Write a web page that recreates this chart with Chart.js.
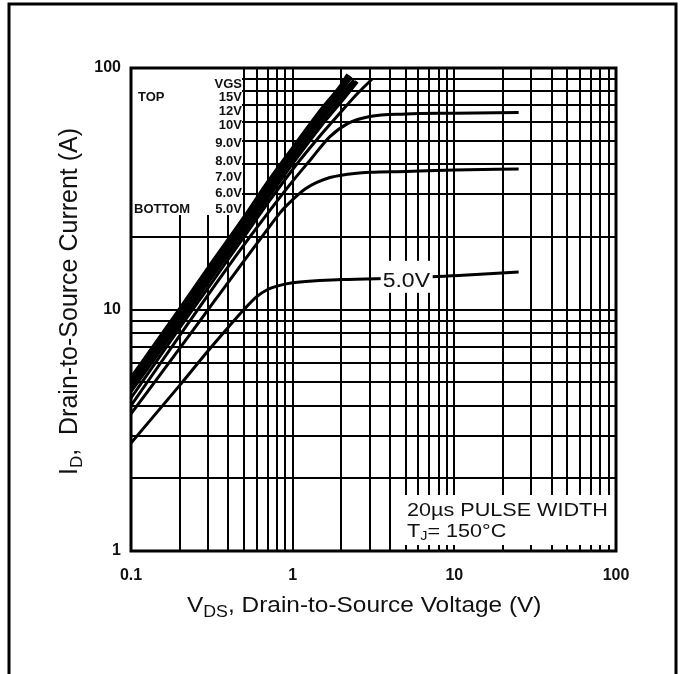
<!DOCTYPE html>
<html>
<head>
<meta charset="utf-8">
<script src="https://cdn.jsdelivr.net/npm/chart.js@4"></script>
<style>
  html, body { margin: 0; padding: 0; background: #fff; }
  #wrap { width: 684px; height: 674px; }
</style>
</head>
<body>
<div id="wrap"><canvas id="chart" width="684" height="674"></canvas></div>
<script>
// every gridline of the two log axes, labels only on the decades
const xTicks = [0.1, 0.2, 0.3, 0.4, 0.5, 0.6, 0.7, 0.8, 0.9, 1, 2, 3, 4, 5, 6, 7, 8, 9, 10, 20, 30, 40, 50, 60, 70, 80, 90, 100];
const yTicks = [1, 2, 3, 4, 5, 6, 7, 8, 9, 10, 20, 30, 40, 50, 60, 70, 80, 90, 100];
const decadeLabels = { 0.1: '0.1', 1: '1', 10: '10', 100: '100' };

// VDS (V) and ID (A)
const vds15 = [0.1, 0.2, 0.3, 0.5, 0.7, 1, 1.5, 2, 2.2];
const id15 = [5.2, 10, 14.8, 24, 33.5, 46.5, 67, 85, 94];
const vds12 = [0.1, 0.2, 0.3, 0.5, 0.7, 1, 1.5, 2, 2.3];
const id12 = [5.0, 9.6, 14.2, 23, 32, 44.5, 64, 81, 92];
const vds10 = [0.1, 0.2, 0.3, 0.5, 0.7, 1, 1.5, 2, 2.4];
const id10 = [4.8, 9.2, 13.6, 22, 30.5, 42.5, 61, 77, 89];
const vds9 = [0.1, 0.2, 0.3, 0.5, 0.7, 1, 1.5, 2, 2.5];
const id9 = [4.6, 8.8, 13, 21, 29, 40.5, 58, 73, 88];
const vds8 = [0.1, 0.2, 0.3, 0.5, 0.7, 1, 1.5, 2, 2.5, 3.1];
const id8 = [4.3, 8.4, 12.3, 20, 27.5, 38, 53, 66, 78, 90];
const vds7 = [0.1, 0.2, 0.3, 0.5, 0.7, 1, 1.3, 1.7, 2.2, 3, 5, 10, 25];
const id7 = [4.0, 7.8, 11.5, 18.5, 25, 34, 42, 52, 59, 63, 64.5, 65, 65.5];
const vds6 = [0.1, 0.2, 0.33, 0.5, 0.7, 0.83, 0.9, 1, 1.1, 1.2, 1.4, 1.7, 2, 3, 5, 10, 25];
const id6 = [3.7, 6.9, 10.9, 15.9, 21.5, 25.0, 26.6, 28.5, 30.2, 31.6, 33.5, 35.2, 36.0, 37, 37.3, 37.8, 38.2];
const vds5 = [0.1, 0.2, 0.3, 0.4, 0.5, 0.6, 0.7, 0.8, 1, 2, 5, 10, 25];
const id5 = [2.8, 4.85, 6.75, 8.45, 10.0, 11.3, 12.1, 12.5, 12.9, 13.3, 13.5, 13.8, 14.3];

const gateLabels = ['15V', '12V', '10V', '9.0V', '8.0V', '7.0V', '6.0V', '5.0V'];
const curves = [[vds15, id15], [vds12, id12], [vds10, id10], [vds9, id9], [vds8, id8], [vds7, id7], [vds6, id6], [vds5, id5]];

const FONT = '"Liberation Sans", Arial, sans-serif';
const INK = '#111';

// draws a row of text pieces (size, baseline shift) with a horizontal stretch
function textRun(ctx, x, y, parts, sx, weight) {
  ctx.save();
  ctx.translate(x, y);
  ctx.scale(sx, 1);
  let cx = 0;
  for (const [t, size, dy] of parts) {
    ctx.font = (weight || '') + ' ' + size + 'px ' + FONT;
    ctx.fillText(t, cx, dy);
    cx += ctx.measureText(t).width;
  }
  ctx.restore();
}

const decor = {
  id: 'decor',
  afterDatasetsDraw(chart) {
    const { ctx, chartArea: a, scales: { x, y } } = chart;
    ctx.save();

    // white boxes that hide the grid
    ctx.fillStyle = '#fff';
    ctx.fillRect(a.left, a.top, x.getPixelForValue(0.5) - 2 - a.left, 215 - a.top);
    const x4 = x.getPixelForValue(4);
    ctx.fillRect(x4 + 2, 495, a.right - x4 - 2, a.bottom - 6 - 495);
    const lx = x.getPixelForValue(5), ly = y.getPixelForValue(13.4);
    ctx.fillRect(lx - 25, ly - 18, 52, 32);

    // plot frame and outer frame
    ctx.strokeStyle = '#000';
    ctx.lineWidth = 3;
    ctx.strokeRect(a.left, a.top, a.right - a.left, a.bottom - a.top);
    ctx.beginPath();
    ctx.moveTo(9, 680); ctx.lineTo(9, 4); ctx.lineTo(676, 4); ctx.lineTo(676, 680);
    ctx.stroke();

    ctx.fillStyle = INK;
    ctx.textBaseline = 'alphabetic';

    // VGS legend
    ctx.font = 'bold 13px ' + FONT;
    ctx.textAlign = 'right';
    const rows = [88, 101, 115, 129, 147, 165, 181, 197, 213];
    ctx.fillText('VGS', 242, rows[0]);
    gateLabels.forEach((g, i) => ctx.fillText(g, 242, rows[i + 1]));
    ctx.textAlign = 'left';
    ctx.fillText('TOP', 138, rows[1]);
    ctx.fillText('BOTTOM', 134, rows[8]);

    // curve label
    textRun(ctx, lx - 23, ly + 8, [['5.0V', 20, 0]], 1.15);

    // pulse note
    textRun(ctx, 407, 516, [['20\u00b5s PULSE WIDTH', 18, 0]], 1.2);
    textRun(ctx, 407, 537, [['T', 18, 0], ['J', 12, 3], ['= 150\u00b0C', 18, 0]], 1.2);

    // axis titles
    textRun(ctx, 187, 612, [['V', 22, 0], ['DS', 16, 5], [', Drain-to-Source Voltage (V)', 22, 0]], 1.11);
    ctx.save();
    ctx.translate(77, 475);
    ctx.rotate(-Math.PI / 2);
    textRun(ctx, 0, 0, [['I', 25, 0], ['D', 17, 5], [',  Drain-to-Source Current (A)', 25, 0]], 1);
    ctx.restore();

    ctx.restore();
  }
};

new Chart(document.getElementById('chart'), {
  type: 'scatter',
  data: {
    datasets: curves.map(([xs, ys], i) => ({
      label: gateLabels[i],
      data: xs.map((v, j) => ({ x: v, y: ys[j] })),
      showLine: true,
      borderColor: '#000',
      borderWidth: i < 4 ? 4 : 3,
      pointRadius: 0,
      cubicInterpolationMode: 'monotone',
      fill: false
    }))
  },
  options: {
    responsive: false,
    animation: false,
    layout: { padding: { left: 0, top: 68, right: 68, bottom: 0 } },
    plugins: { legend: { display: false }, tooltip: { enabled: false } },
    scales: {
      x: {
        type: 'logarithmic',
        min: 0.1,
        max: 100,
        afterBuildTicks: s => { s.ticks = xTicks.map(v => ({ value: v })); },
        afterFit: s => { s.height = 123; },
        ticks: { autoSkip: false, maxRotation: 0, padding: 15, color: INK, font: { family: FONT, size: 16, weight: 'bold' }, callback: v => decadeLabels[v] || '' },
        grid: { color: '#000', lineWidth: 2, drawTicks: false },
        border: { display: false }
      },
      y: {
        type: 'logarithmic',
        min: 1,
        max: 100,
        afterBuildTicks: s => { s.ticks = yTicks.map(v => ({ value: v })); },
        afterFit: s => { s.width = 131; },
        ticks: { autoSkip: false, padding: 10, color: INK, font: { family: FONT, size: 16, weight: 'bold' }, callback: v => decadeLabels[v] || '' },
        grid: { color: '#000', lineWidth: 2, drawTicks: false },
        border: { display: false }
      }
    }
  },
  plugins: [decor]
});
</script>
</body>
</html>
